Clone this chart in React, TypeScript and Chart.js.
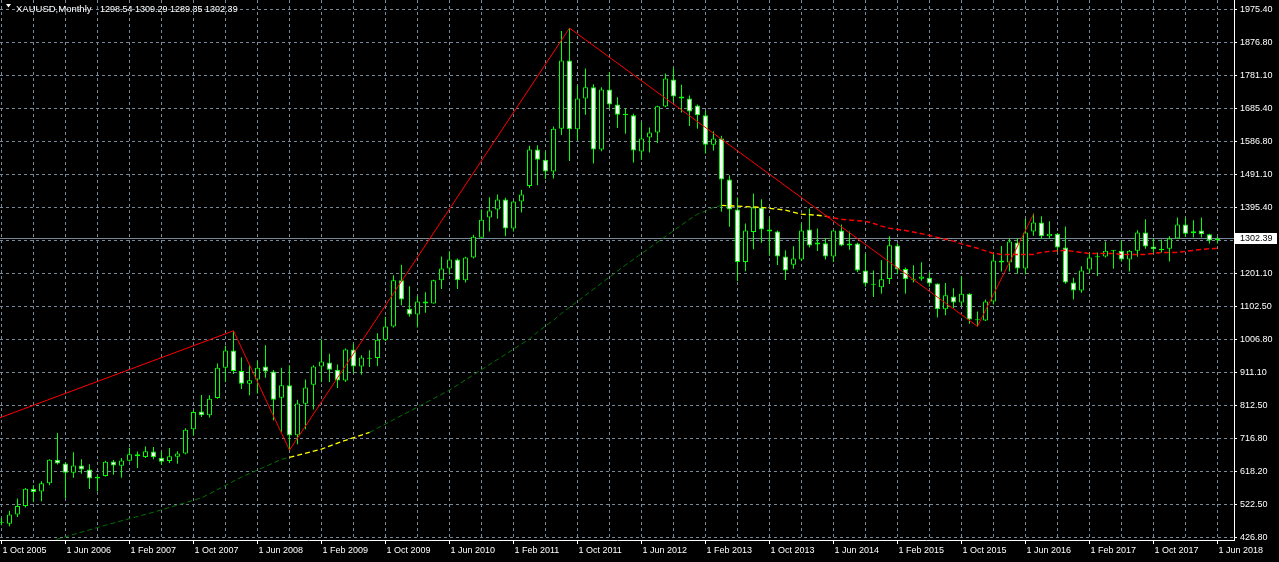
import React, { useEffect, useRef } from 'react';
import { Chart, registerables } from 'chart.js';

Chart.register(...registerables);

const SYMBOL_TITLE = 'XAUUSD,Monthly';

// Month index 0 = Oct 2005 ... 152 = Jun 2018
const OPEN = [
  473, 467, 494, 519, 570, 562, 586, 655, 644, 617,
  638, 626, 605, 607, 650, 637, 652, 671, 663, 679,
  661, 651, 664, 673, 744, 796, 785, 836, 925, 975,
  915, 878, 890, 928, 914, 837, 873, 727, 819, 875,
  928, 940, 919, 887, 978, 928, 951, 953, 1007, 1046,
  1181, 1098, 1081, 1119, 1113, 1181, 1216, 1242, 1181, 1248,
  1306, 1365, 1389, 1418, 1333, 1412, 1458, 1565, 1535, 1500,
  1626, 1826, 1624, 1714, 1747, 1565, 1741, 1697, 1670, 1665,
  1559, 1600, 1615, 1691, 1770, 1720, 1714, 1694, 1665, 1579,
  1597, 1477, 1389, 1235, 1323, 1395, 1330, 1324, 1251, 1227,
  1242, 1330, 1292, 1290, 1251, 1327, 1283, 1289, 1210, 1170,
  1161, 1185, 1283, 1214, 1184, 1186, 1189, 1172, 1096, 1134,
  1116, 1142, 1066, 1063, 1119, 1239, 1233, 1292, 1216, 1324,
  1351, 1310, 1318, 1277, 1175, 1151, 1213, 1249, 1251, 1268,
  1268, 1242, 1268, 1321, 1280, 1269, 1274, 1304, 1345, 1325,
  1327, 1316, 1298.54,
];
const HIGH = [
  485, 505, 541, 572, 580, 592, 656, 733, 646, 677,
  656, 642, 610, 652, 654, 660, 690, 679, 694, 692,
  679, 689, 680, 747, 800, 845, 844, 937, 989, 1033,
  955, 932, 945, 991, 918, 925, 932, 831, 890, 932,
  1007, 966, 934, 981, 996, 961, 976, 1026, 1074, 1196,
  1227, 1164, 1135, 1146, 1183, 1251, 1266, 1245, 1250, 1315,
  1389, 1425, 1433, 1423, 1414, 1447, 1576, 1577, 1560, 1632,
  1912, 1921, 1753, 1802, 1756, 1747, 1791, 1718, 1685, 1670,
  1646, 1629, 1693, 1788, 1805, 1755, 1723, 1697, 1678, 1618,
  1605, 1489, 1424, 1348, 1436, 1419, 1365, 1327, 1269, 1281,
  1348, 1392, 1333, 1305, 1327, 1345, 1324, 1291, 1260, 1210,
  1240, 1310, 1289, 1219, 1225, 1234, 1205, 1172, 1173, 1158,
  1193, 1143, 1090, 1125, 1263, 1282, 1304, 1305, 1362, 1377,
  1369, 1354, 1320, 1339, 1189, 1222, 1263, 1263, 1295, 1270,
  1298, 1270, 1328, 1360, 1304, 1301, 1310, 1365, 1365, 1357,
  1365, 1318, 1309.29,
];
const LOW = [
  463, 460, 487, 515, 531, 533, 580, 641, 543, 602,
  614, 569, 562, 606, 611, 602, 650, 631, 660, 656,
  640, 645, 643, 671, 725, 780, 779, 834, 883, 906,
  862, 844, 849, 895, 771, 737, 683, 700, 744, 802,
  883, 883, 865, 883, 909, 904, 927, 930, 1003, 1043,
  1108, 1074, 1043, 1086, 1113, 1156, 1198, 1156, 1175, 1245,
  1306, 1324, 1362, 1310, 1324, 1380, 1452, 1460, 1478, 1480,
  1607, 1531, 1592, 1667, 1524, 1560, 1685, 1628, 1611, 1527,
  1535, 1556, 1584, 1689, 1703, 1673, 1634, 1626, 1553, 1562,
  1382, 1338, 1179, 1208, 1272, 1291, 1253, 1226, 1182, 1215,
  1238, 1277, 1267, 1242, 1235, 1281, 1271, 1205, 1162, 1132,
  1142, 1170, 1199, 1142, 1175, 1180, 1162, 1072, 1079, 1100,
  1106, 1054, 1046, 1062, 1110, 1207, 1207, 1200, 1199, 1312,
  1302, 1303, 1264, 1171, 1125, 1145, 1201, 1194, 1248, 1215,
  1236, 1207, 1250, 1274, 1263, 1263, 1236, 1304, 1308, 1307,
  1307, 1289, 1289.35,
];
const CLOSE = [
  470, 494, 519, 570, 560, 586, 655, 644, 617, 638,
  626, 600, 600, 649, 638, 653, 671, 665, 680, 662,
  649, 665, 673, 743, 795, 785, 834, 925, 975, 915,
  878, 888, 925, 914, 831, 873, 726, 820, 867, 928,
  943, 919, 887, 978, 928, 955, 953, 1007, 1046, 1181,
  1125, 1081, 1119, 1113, 1181, 1216, 1242, 1181, 1248, 1309,
  1359, 1386, 1418, 1333, 1412, 1433, 1565, 1535, 1500, 1626,
  1826, 1624, 1714, 1747, 1565, 1741, 1697, 1667, 1665, 1562,
  1597, 1615, 1692, 1773, 1720, 1714, 1676, 1665, 1579, 1597,
  1477, 1389, 1235, 1327, 1395, 1330, 1324, 1251, 1210, 1245,
  1327, 1283, 1286, 1251, 1327, 1283, 1289, 1210, 1172, 1168,
  1184, 1284, 1213, 1184, 1183, 1192, 1172, 1096, 1137, 1116,
  1142, 1066, 1064, 1119, 1239, 1233, 1295, 1216, 1321, 1351,
  1310, 1318, 1277, 1175, 1151, 1210, 1248, 1250, 1268, 1269,
  1242, 1268, 1321, 1280, 1272, 1274, 1304, 1345, 1318, 1319,
  1316, 1298, 1302.39,
];

// X axis labels, one every 8 months starting Oct 2005
const X_TICK_LABELS = [
  '1 Oct 2005', '1 Jun 2006', '1 Feb 2007', '1 Oct 2007', '1 Jun 2008',
  '1 Feb 2009', '1 Oct 2009', '1 Jun 2010', '1 Feb 2011', '1 Oct 2011',
  '1 Jun 2012', '1 Feb 2013', '1 Oct 2013', '1 Jun 2014', '1 Feb 2015',
  '1 Oct 2015', '1 Jun 2016', '1 Feb 2017', '1 Oct 2017', '1 Jun 2018',
];
const Y_TICK_LABELS = [
  '1975.40', '1876.80', '1781.10', '1685.40', '1586.80', '1491.10', '1395.40', '1297.90',
  '1201.10', '1102.50', '1006.80', '911.10', '812.50', '716.80', '618.20', '522.50', '426.80',
];

// ZigZag (red solid)
const ZIGZAG_M = [-0.2, 29, 36, 71, 122, 129];
const ZIGZAG_V = [778, 1033, 683, 1921, 1046, 1375];

// Trend line segments (dashed)
const GREEN1_M = [5, 7, 13, 19, 25, 30, 35, 36];
const GREEN1_V = [405, 422, 463, 501, 543, 604, 656, 662];
const YELLOW1_M = [36, 40, 43, 46];
const YELLOW1_V = [662, 686, 712, 735];
const GREEN2_M = [46, 56, 66, 67, 68, 69, 70, 78, 86, 87, 88, 89, 90];
const GREEN2_V = [735, 859, 1009, 1029, 1047, 1064, 1084, 1226, 1360, 1375, 1384, 1395, 1401];
const YELLOW2_M = [90, 95, 98, 100, 102, 103];
const YELLOW2_V = [1401, 1395, 1387, 1375, 1372, 1369];
const RED_M = [103, 105, 108, 109, 110, 111, 113, 115, 117, 119, 120, 122, 124, 125, 129, 130, 131, 133, 134, 135, 136, 139, 140, 143, 144, 145, 147, 148, 149, 150, 152];
const RED_V = [1369, 1360, 1354, 1348, 1340, 1334, 1327, 1318, 1307, 1296, 1288, 1275, 1260, 1257, 1257, 1263, 1266, 1269, 1266, 1263, 1260, 1260, 1257, 1257, 1260, 1263, 1263, 1266, 1269, 1272, 1275];

const X_MIN = -0.1875;
const X_MAX = 154.0625;
const Y_MIN = 419.47;
const Y_MAX = 2003.26;

const GRID = '#778899';
const FONT = "'Liberation Sans', Arial, sans-serif";

const pts = (ms: number[], vs: number[]) => ms.map((m, i) => ({ x: m, y: vs[i] }));

export default function App() {
  const ref = useRef<HTMLCanvasElement>(null);

  useEffect(() => {
    const canvas = ref.current;
    if (!canvas) return;
    const last = CLOSE.length - 1;
    const months = CLOSE.map((_, i) => i);
    const bodyColors = months.map((i) => (CLOSE[i] >= OPEN[i] ? '#000000' : '#ffffff'));

    const overlay = {
      id: 'mtOverlay',
      beforeDatasetsDraw(chart: any) {
        const { ctx, chartArea, scales } = chart;
        const y = Math.floor(scales.y.getPixelForValue(CLOSE[last])) + 0.5;
        ctx.save();
        ctx.strokeStyle = GRID;
        ctx.lineWidth = 1;
        ctx.beginPath();
        ctx.moveTo(chartArea.left, y);
        ctx.lineTo(chartArea.right, y);
        ctx.stroke();
        ctx.restore();
      },
      afterDraw(chart: any) {
        const { ctx, chartArea, scales } = chart;
        ctx.save();
        // header
        ctx.fillStyle = '#ffffff';
        ctx.beginPath();
        ctx.moveTo(6, 4);
        ctx.lineTo(11, 4);
        ctx.lineTo(8.5, 7.5);
        ctx.closePath();
        ctx.fill();
        ctx.font = `9.5px ${FONT}`;
        ctx.textBaseline = 'alphabetic';
        ctx.textAlign = 'left';
        ctx.fillText(SYMBOL_TITLE, 16, 11.5);
        const vals = [OPEN[last], HIGH[last], LOW[last], CLOSE[last]].map((v) => v.toFixed(2)).join(' ');
        ctx.font = `9px ${FONT}`;
        ctx.fillText(vals, 100, 11.5);
        // price label
        const py = Math.floor(scales.y.getPixelForValue(CLOSE[last]));
        ctx.fillStyle = '#ffffff';
        ctx.fillRect(chartArea.right + 1, py - 5, 42, 11);
        ctx.fillStyle = '#000000';
        ctx.textBaseline = 'middle';
        ctx.fillText(CLOSE[last].toFixed(2), chartArea.right + 6, py + 0.5);
        ctx.restore();
      },
    };

    const dashed = (ms: number[], vs: number[], color: string, width: number) => ({
      type: 'line' as const,
      data: pts(ms, vs),
      borderColor: color,
      borderWidth: width,
      borderDash: [5, 3],
      pointRadius: 0,
      tension: 0,
      order: 0,
    });

    const chart = new Chart(canvas, {
      type: 'bar',
      data: {
        datasets: [
          {
            type: 'line',
            data: pts(ZIGZAG_M, ZIGZAG_V),
            borderColor: '#ff0000',
            borderWidth: 1,
            pointRadius: 0,
            tension: 0,
            order: 0,
          } as any,
          dashed(GREEN1_M, GREEN1_V, '#007000', 1) as any,
          dashed(YELLOW1_M, YELLOW1_V, '#ffff00', 1.3) as any,
          dashed(GREEN2_M, GREEN2_V, '#007000', 1) as any,
          dashed(YELLOW2_M, YELLOW2_V, '#ffff00', 1.3) as any,
          dashed(RED_M, RED_V, '#ff0000', 1.5) as any,
          {
            type: 'bar',
            data: months.map((i) => ({ x: i, y: [OPEN[i], CLOSE[i]] })),
            backgroundColor: bodyColors,
            borderColor: '#00ff00',
            borderWidth: 1,
            borderSkipped: false,
            barThickness: 5,
            grouped: false,
            minBarLength: 1,
            inflateAmount: 0,
            order: 1,
          } as any,
          {
            type: 'bar',
            data: months.map((i) => ({ x: i, y: [LOW[i], HIGH[i]] })),
            backgroundColor: '#00ff00',
            borderWidth: 0,
            barThickness: 1,
            grouped: false,
            inflateAmount: 0,
            order: 2,
          } as any,
        ],
      },
      options: {
        animation: false,
        responsive: false,
        events: [],
        layout: { padding: 0 },
        plugins: {
          legend: { display: false },
          tooltip: { enabled: false },
          title: { display: false },
        },
        scales: {
          x: {
            type: 'linear',
            position: 'bottom',
            min: X_MIN,
            max: X_MAX,
            offset: false,
            afterBuildTicks: (s: any) => {
              const t = [];
              for (let m = 0; m <= last; m += 4) t.push({ value: m });
              s.ticks = t;
            },
            afterFit: (s: any) => {
              s.height = 22;
              s.paddingLeft = 0;
              s.paddingRight = 0;
              s.paddingTop = 0;
              s.paddingBottom = 0;
            },
            grid: {
              color: GRID,
              lineWidth: 1,
              offset: false,
              drawTicks: true,
              tickLength: 4,
              tickColor: (c: any) => (c.tick && c.tick.value % 8 === 0 ? '#ffffff' : 'rgba(0,0,0,0)'),
            },
            border: { display: true, color: '#ffffff', width: 1, dash: [3, 3] },
            ticks: {
              autoSkip: false,
              maxRotation: 0,
              minRotation: 0,
              align: 'start',
              labelOffset: 1,
              padding: 1,
              color: '#ffffff',
              font: { family: FONT, size: 9 },
              callback: (v: any) => (v % 8 === 0 ? X_TICK_LABELS[v / 8] : ''),
            },
          } as any,
          y: {
            type: 'linear',
            position: 'right',
            min: Y_MIN,
            max: Y_MAX,
            afterBuildTicks: (s: any) => {
              const top = parseFloat(Y_TICK_LABELS[0]);
              const bot = parseFloat(Y_TICK_LABELS[Y_TICK_LABELS.length - 1]);
              const n = Y_TICK_LABELS.length - 1;
              s.ticks = Y_TICK_LABELS.map((_, i) => ({ value: top - (i * (top - bot)) / n }));
            },
            afterFit: (s: any) => {
              s.width = 45;
              s.paddingLeft = 0;
              s.paddingRight = 0;
              s.paddingTop = 0;
              s.paddingBottom = 0;
            },
            grid: {
              color: GRID,
              lineWidth: 1,
              drawTicks: true,
              tickLength: 3,
              tickColor: '#ffffff',
            },
            border: { display: true, color: '#ffffff', width: 1, dash: [3, 3] },
            ticks: {
              autoSkip: false,
              padding: 3,
              color: '#ffffff',
              font: { family: FONT, size: 9 },
              callback: (_v: any, i: number) => Y_TICK_LABELS[i],
            },
          } as any,
        },
      },
      plugins: [overlay],
    } as any);

    return () => chart.destroy();
  }, []);

  return (
    <div style={{ position: 'absolute', left: 0, top: 0, width: 1279, height: 562, background: '#000' }}>
      <canvas ref={ref} width={1279} height={562} style={{ display: 'block', width: 1279, height: 562 }} />
    </div>
  );
}
